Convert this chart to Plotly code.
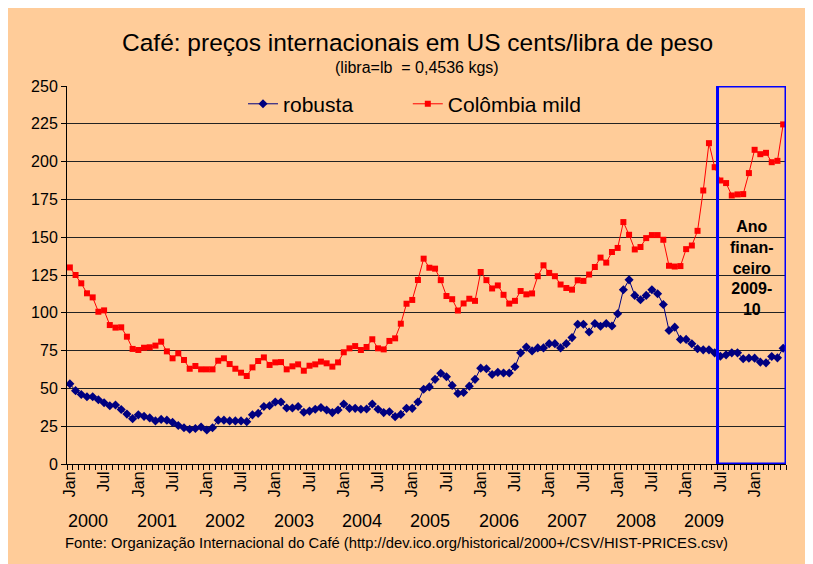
import plotly.graph_objects as go

months = ["Jan", "Jul"]
years = [str(y) for y in range(2000, 2010)]

robusta = [53, 48.5, 46, 44.5, 44.5, 42.5, 40.5, 38.5, 39, 36, 33, 30,
           32.5, 31.5, 30.5, 28.5, 29.5, 29, 27.5, 25.5, 24, 23, 23.5, 24.5,
           22.5, 24, 29, 29, 28.5, 28.5, 28.5, 28, 32.5, 33.5, 38, 38.5,
           41, 41, 37, 37, 38, 34.2, 35, 36.2, 37.3, 35.7, 34, 35.7,
           39.7, 36.8, 36.8, 36.2, 36.4, 39.7, 36.2, 34, 34.6, 31.3, 32.8, 36.8,
           36.8, 41, 49.4, 51, 56, 60, 57.7, 52, 46.7, 47.3, 51.5, 56,
           63.4, 63, 59.2, 60.6, 60.2, 60.2, 64.3, 73.5, 77.3, 74.8, 76.8, 76.8,
           79.6, 79.6, 76.8, 79.6, 83.6, 92.4, 92.4, 87.3, 92.9, 91.1, 92.9, 91.3,
           99.4, 115.2, 121.8, 111.5, 108.6, 111.5, 115.2, 112.6, 105.5, 88.3, 90.5, 82.4,
           82.4, 79.5, 76.2, 75.5, 75.5, 73.5, 71.3, 72.2, 73.5, 73.5, 69.6, 70,
           70, 67.4, 66.9, 71.1, 70.2, 76.6]

colombia = [130, 125, 119.5, 112.9, 110.2, 100.7, 101.6, 91.9, 90.2, 90.4, 84.2, 76.1,
            75.4, 76.9, 77.2, 78.3, 80.9, 74.5, 69.9, 73.2, 68.8, 63, 64.8, 62.6,
            62.6, 62.6, 68.3, 69.9, 66.1, 63, 60.4, 58.2, 63.9, 68.1, 70.5, 65.5,
            67.2, 67.4, 62.6, 64.6, 65.9, 61.7, 65, 65.9, 67.7, 66.6, 64.4, 67.2,
            73.9, 76.5, 78, 75.4, 77.4, 82.5, 76.5, 75.8, 81.4, 83.1, 92.8, 106,
            108.5, 121.7, 135.8, 129.8, 129.2, 121.6, 111.1, 109, 101.5, 106.2, 109.3, 107.9,
            127, 121.6, 116.1, 118.1, 111.9, 106.1, 107.9, 114.4, 112.2, 112.8, 124.2, 131.4,
            126.4, 124.2, 118.7, 116.4, 115.3, 121.5, 121.1, 125.3, 130.3, 136.5, 133.2, 140.2,
            142.9, 160, 151.6, 141.9, 143.5, 149.4, 151.4, 151.4, 148.3, 131.1, 130.6, 130.9,
            142.1, 144.5, 154.2, 180.9, 212.2, 196.3, 187.5, 185.8, 177.6, 178.3, 178.5, 192.4,
            207.8, 204.9, 205.8, 199.6, 200.5, 224.6]

n = len(robusta)
x = list(range(n))
FONT = "Arial, Liberation Sans, sans-serif"
PEACH = "#FFCC99"

fig = go.Figure()
fig.add_trace(go.Scatter(x=x, y=robusta, name="robusta", mode="lines+markers",
                         line=dict(color="#000080", width=1),
                         marker=dict(symbol="diamond", size=7, color="#000080"),
                         legend="legend"))
fig.add_trace(go.Scatter(x=x, y=colombia, name="Colômbia mild", mode="lines+markers",
                         line=dict(color="#FF0000", width=1),
                         marker=dict(symbol="square", size=6, color="#FF0000"),
                         legend="legend2"))

tickvals = list(range(0, n, 6))
ticktext = [months[(i // 6) % 2] for i in tickvals]

fig.update_xaxes(range=[-0.5, n - 0.5], tickmode="array", tickvals=tickvals, ticktext=ticktext,
                 tickangle=-90, ticks="", showgrid=False, zeroline=False,
                 showline=True, linecolor="black", linewidth=1,
                 tickfont=dict(family=FONT, size=16, color="black"),
                 minor=dict(tickmode="array", tickvals=[i - 0.5 for i in range(n + 1)],
                            ticks="outside", ticklen=5, tickcolor="black", showgrid=False))
fig.update_yaxes(range=[0, 250], tick0=0, dtick=25, ticks="outside", ticklen=5, tickcolor="black",
                 showgrid=True, gridcolor="#222222", gridwidth=1, zeroline=False,
                 showline=True, linecolor="black", linewidth=1,
                 tickfont=dict(family=FONT, size=16, color="black"))

# financial year box
fig.add_shape(type="rect", xref="x", yref="y", x0=113.5, x1=n - 0.5, y0=0, y1=250,
              line=dict(color="#0000FF", width=3), layer="above")
fig.add_annotation(x=119.5, y=129.6, xref="x", yref="y", showarrow=False,
                   text="<b>Ano<br>finan-<br>ceiro<br>2009-<br>10</b>",
                   font=dict(family=FONT, size=16, color="black"), align="center")

# year labels
for k, yr in enumerate(years):
    fig.add_annotation(x=12 * k + 3.2, y=-0.151, xref="x", yref="paper", showarrow=False,
                       text=yr, font=dict(family=FONT, size=18, color="black"), yanchor="middle")

fig.add_annotation(x=0.458, y=-0.209, xref="paper", yref="paper", showarrow=False,
                   text="Fonte: Organização Internacional do Café (http://dev.ico.org/historical/2000+/CSV/HIST-PRICES.csv)",
                   font=dict(family=FONT, size=14.8, color="black"), yanchor="middle")
fig.add_annotation(x=0.487, y=1.116, xref="paper", yref="paper", showarrow=False,
                   text="Café: preços internacionais em US cents/libra de peso",
                   font=dict(family=FONT, size=24.5, color="black"), yanchor="middle")
fig.add_annotation(x=0.487, y=1.050, xref="paper", yref="paper", showarrow=False,
                   text="(libra=lb  = 0,4536 kgs)",
                   font=dict(family=FONT, size=16, color="black"), yanchor="middle")

legend_common = dict(orientation="h", y=0.952, xanchor="left", yanchor="middle",
                     bgcolor="rgba(0,0,0,0)", font=dict(family=FONT, size=21, color="black"),
                     itemwidth=30)

fig.update_layout(width=805, height=556, margin=dict(l=59, r=27, t=78, b=100),
                  paper_bgcolor=PEACH, plot_bgcolor=PEACH,
                  font=dict(family=FONT, color="black"),
                  showlegend=True,
                  legend=dict(x=0.2448, **legend_common),
                  legend2=dict(x=0.474, **legend_common))

fig.write_html("out.html")
